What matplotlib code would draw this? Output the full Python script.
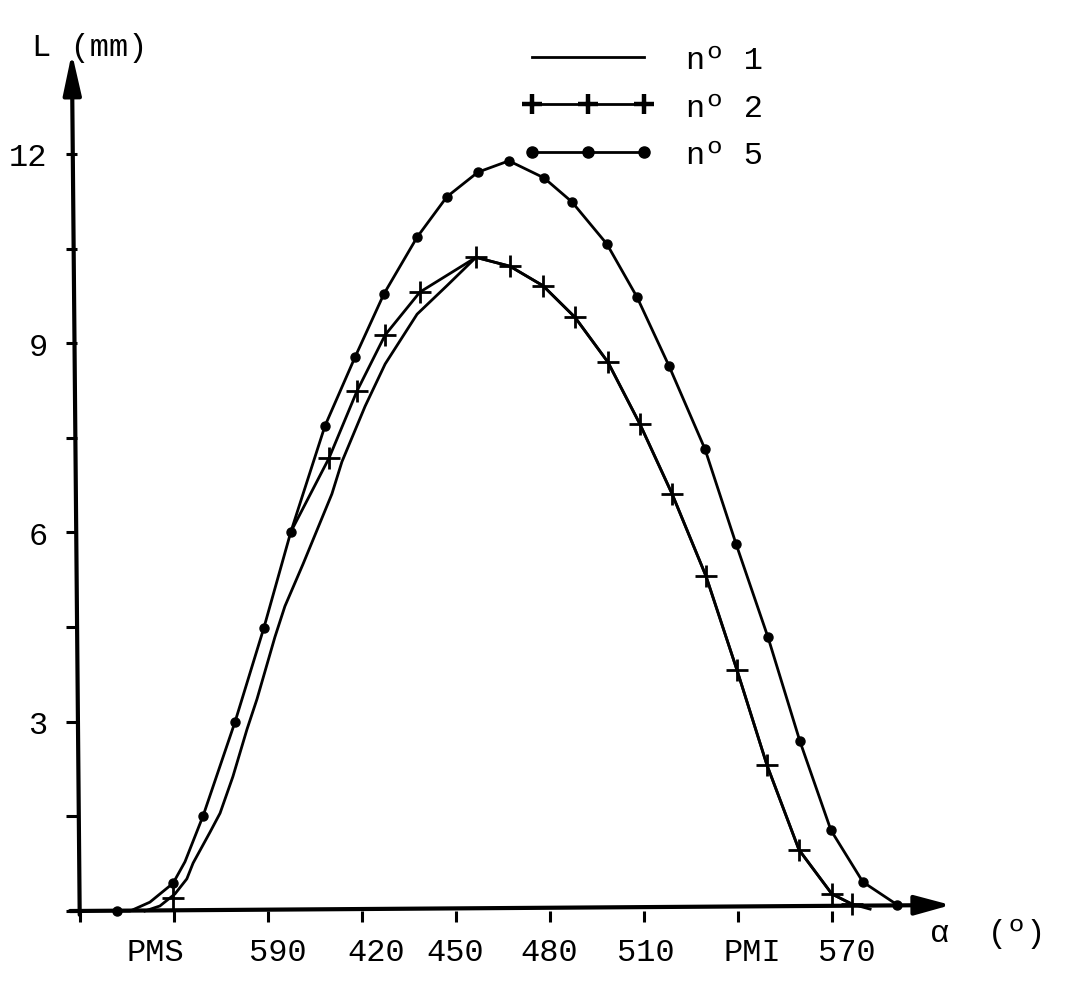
import matplotlib
matplotlib.use("Agg")
import matplotlib.pyplot as plt
from matplotlib.ticker import NullFormatter

plt.rcParams['font.family'] = ['Liberation Mono', 'DejaVu Sans Mono']

# lift curves, crank angle in degrees / lift in mm
n1_x = [350.7, 355.5, 360.3, 364.1, 366.1, 371.5, 374.7, 378.8, 383.3, 386.5, 392.2, 395.4, 401.2,
        410.4, 413.6, 421.0, 427.4, 437.6, 447.1, 456.4, 467.2, 477.8, 488.0, 498.5, 508.7, 519.0,
        529.8, 539.7, 549.3, 559.5, 570.0, 576.4, 582.2]
n1_y = [0, 0.08, 0.27, 0.51, 0.76, 1.25, 1.55, 2.13, 2.88, 3.36, 4.34, 4.83, 5.50,
        6.61, 7.12, 8.00, 8.67, 9.46, 9.91, 10.36, 10.22, 9.91, 9.41, 8.70, 7.72, 6.61,
        5.31, 3.82, 2.31, 0.97, 0.27, 0.11, 0.03]

# the first n2 point sits on curve 1, then n2 is hidden under curve 5 up to 397
n2_x = [359.7, float('nan'), 397.3, 409.5, 418.4, 427.4, 438.5, 456.4, 467.2, 477.8, 488.0, 498.5,
        508.7, 519.0, 529.8, 539.7, 549.3, 559.5, 570.0, 576.4]
n2_y = [0.21, float('nan'), 6.01, 7.18, 8.24, 9.13, 9.81, 10.36, 10.22, 9.91, 9.41, 8.70,
        7.72, 6.61, 5.31, 3.82, 2.31, 0.97, 0.27, 0.11]
n2_marks = [0] + list(range(3, len(n2_x)))

n5_x = [341.8, 346.0, 352.3, 359.7, 363.5, 369.3, 379.5, 388.7, 397.3, 408.2, 417.8, 427.0, 437.6,
        447.1, 457.0, 466.9, 478.1, 487.0, 498.2, 507.8, 518.0, 529.5, 539.4, 549.6, 559.8, 569.7,
        579.9, 590.8]
n5_y = [0, 0, 0.14, 0.44, 0.78, 1.51, 3.00, 4.49, 6.01, 7.69, 8.78, 9.78, 10.68,
        11.32, 11.71, 11.89, 11.62, 11.24, 10.57, 9.73, 8.64, 7.32, 5.82, 4.34, 2.69, 1.28,
        0.46, 0.10]
n5_marks = [0, 3] + list(range(5, len(n5_x)))

x_ticks = [330, 360, 390, 420, 450, 480, 510, 540, 570]
x_labels = ['', 'PMS', '590', '420', '450', '480', '510', 'PMI', '570']
x_label_dx = [0, -19, 10, 14, -1, -1, 2, 14, 15]
y_major = [0, 3, 6, 9, 12]
y_labels = ['', '3', '6', '9', '12']
y_minor = [1.5, 4.5, 7.5, 10.5]

FS = 23

fig = plt.figure(figsize=(10.67, 10.04), dpi=100)
ax = fig.add_axes([0, 0, 1, 1])
ax.set_xlim(304.46, 645.05)
ax.set_ylim(-1.458, 14.455)

ax.plot(n1_x, n1_y, color='black', lw=2, label='nº 1')
ax.plot(n2_x, n2_y, color='black', lw=2, marker='+', ms=16, mew=2, markevery=n2_marks, label='nº 2')
ax.plot(n5_x, n5_y, color='black', lw=2, marker='o', ms=6.5, markevery=n5_marks, label='nº 5')

# axes are hand drawn and slightly tilted, ticks stay on hidden spines
ax.spines['top'].set_visible(False)
ax.spines['right'].set_visible(False)
ax.spines['left'].set_position(('data', 329.0))
ax.spines['bottom'].set_position(('data', 0))
ax.spines['left'].set_visible(False)
ax.spines['bottom'].set_visible(False)

ax.set_xticks(x_ticks)
ax.xaxis.set_major_formatter(NullFormatter())
ax.set_yticks(y_major)
ax.set_yticklabels(y_labels, fontsize=FS)
ax.set_yticks(y_minor, minor=True)
ax.tick_params(axis='x', length=8, width=2.2, direction='out')
ax.tick_params(axis='y', which='both', length=8, width=2.2, direction='out', pad=13)
ax.patch.set_visible(False)

arrow_x = dict(arrowstyle='-|>,head_length=2.2,head_width=0.6', mutation_scale=10, lw=3,
               color='black', shrinkA=0, shrinkB=0)
arrow_y = dict(arrowstyle='-|>,head_length=2.5,head_width=0.55', mutation_scale=10, lw=3,
               color='black', shrinkA=0, shrinkB=0)
ax.annotate('', xy=(608.0, 0.095), xytext=(326.8, 0), arrowprops=arrow_x)
ax.annotate('', xy=(327.4, 13.6), xytext=(329.9, -0.06), arrowprops=arrow_y)

for tick, label, dx in zip(x_ticks, x_labels, x_label_dx):
    ax.annotate(label, xy=(tick, 0), xytext=(dx, -41), textcoords='offset pixels',
                ha='center', va='center', fontsize=FS)

ax.text(0.0840, 0.9525, 'L (mm)', transform=ax.transAxes, ha='center', va='center', fontsize=FS)
ax.text(0.9260, 0.0700, 'α  (º)', transform=ax.transAxes, ha='center', va='center', fontsize=FS)

leg = ax.legend(loc='upper left', bbox_to_anchor=(0.490, 0.9545), frameon=False, fontsize=FS,
                numpoints=3, handlelength=4.1, handletextpad=1.0, labelspacing=0.56,
                borderpad=0, borderaxespad=0)
leg.legend_handles[1].set_markeredgewidth(3.2)
leg.legend_handles[1].set_markersize(15)
leg.legend_handles[2].set_markersize(8)

fig.savefig("out.png", dpi=100)
